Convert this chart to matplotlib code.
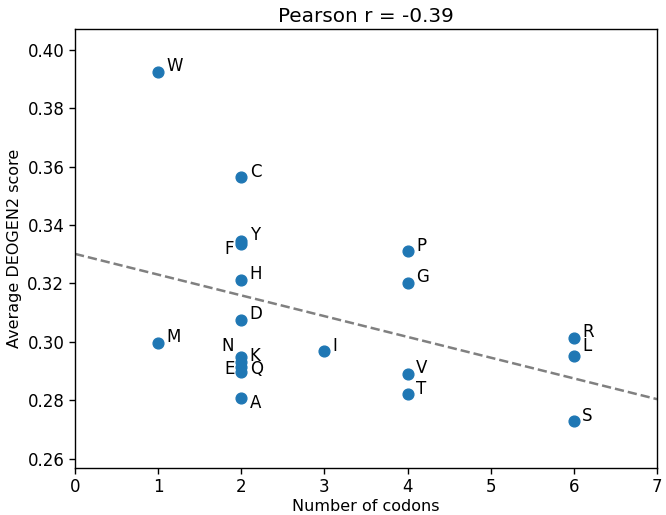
import numpy as np
import matplotlib
matplotlib.use('Agg')
import matplotlib.pyplot as plt

# amino acids, codon counts and average DEOGEN2 scores
amino_acids = ['W', 'M', 'C', 'Y', 'F', 'H', 'D', 'K', 'N', 'E', 'Q', 'A',
               'I', 'P', 'G', 'V', 'T', 'R', 'L', 'S']
n_codons = [1, 1, 2, 2, 2, 2, 2, 2, 2, 2, 2, 2,
            3, 4, 4, 4, 4, 6, 6, 6]
avg_score = [0.3925, 0.2997, 0.3563, 0.3346, 0.3336, 0.3212, 0.3075, 0.2947,
             0.2930, 0.2913, 0.2896, 0.2806, 0.2968, 0.3310, 0.3203, 0.2890,
             0.2820, 0.3013, 0.2951, 0.2727]
pearson_r = -0.39

# label placement (offset points, horizontal alignment)
LABEL_OFFSETS = {
    'F': (-5, -4, 'right'),
    'N': (-5, 12, 'right'),
    'E': (-5, -1, 'right'),
    'K': (6, 1, 'left'),
    'Q': (6, 2, 'left'),
    'A': (6, -3, 'left'),
    'L': (6, 7, 'left'),
}
DEFAULT_OFFSET = (6, 4, 'left')


def main():
    fig = plt.figure(figsize=(6.66, 5.15), dpi=100)
    ax = fig.add_axes([0.1126, 0.092, 0.874, 0.852])

    x = np.array(n_codons, dtype=float)
    y = np.array(avg_score)

    ax.scatter(x, y, s=60, color='#1f77b4', zorder=3)

    slope, intercept = np.polyfit(x, y, 1)
    xs = np.array([0, 7])
    ax.plot(xs, intercept + slope * xs, linestyle='--', color='gray', lw=1.8)

    for name, xi, yi in zip(amino_acids, x, y):
        dx, dy, ha = LABEL_OFFSETS.get(name, DEFAULT_OFFSET)
        ax.annotate(name, (xi, yi), xytext=(dx, dy), textcoords='offset points',
                    ha=ha, va='center', fontsize=12)

    ax.set_xlim(0, 7)
    ax.set_ylim(0.2569, 0.4072)
    ax.set_yticks(np.arange(0.26, 0.401, 0.02))
    ax.set_yticklabels(['%.2f' % v for v in np.arange(0.26, 0.401, 0.02)])
    ax.tick_params(labelsize=12, length=4.2, width=1.0)
    for spine in ax.spines.values():
        spine.set_linewidth(1.0)

    ax.set_xlabel('Number of codons', fontsize=11.5, labelpad=2)
    ax.set_ylabel('Average DEOGEN2 score', fontsize=11.5)
    ax.set_title('Pearson r = %.2f' % pearson_r, fontsize=14.4, pad=5)

    fig.savefig('out.png', dpi=100)


if __name__ == '__main__':
    main()
